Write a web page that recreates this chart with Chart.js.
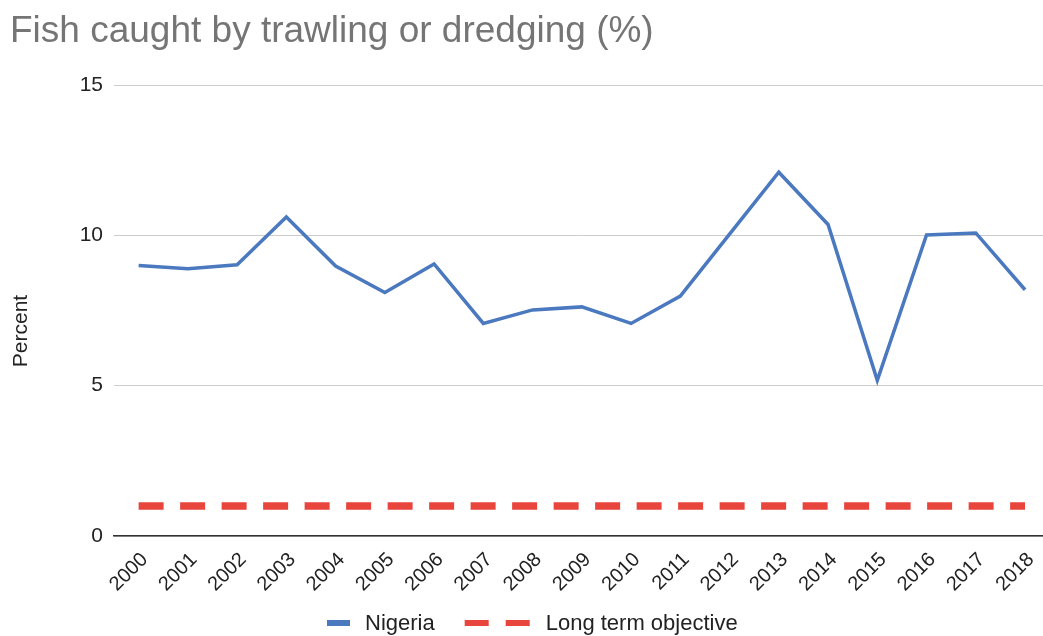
<!DOCTYPE html>
<html>
<head>
<meta charset="utf-8">
<script src="https://cdn.jsdelivr.net/npm/chart.js@4.4.1/dist/chart.umd.min.js"></script>
<style>
  html, body { margin: 0; padding: 0; background: #fff; overflow: hidden; }
  #wrap { position: relative; width: 1054px; height: 636px; }
</style>
</head>
<body>
<div id="wrap"><canvas id="chart"></canvas></div>
<script>
const chartTitle = 'Fish caught by trawling or dredging (%)';
const years = ['2000','2001','2002','2003','2004','2005','2006','2007','2008','2009',
               '2010','2011','2012','2013','2014','2015','2016','2017','2018'];
const nigeria = [9.00, 8.89, 9.02, 10.61, 8.98, 8.10, 9.05, 7.07, 7.52, 7.62,
                 7.07, 7.98, 10.04, 12.10, 10.36, 5.18, 10.01, 10.08, 8.19];
const objective = [1, 1, 1, 1, 1, 1, 1, 1, 1, 1, 1, 1, 1, 1, 1, 1, 1, 1, 1];
const yTicks = [0, 5, 10, 15];
const yAxisTitle = 'Percent';

const FONT = '"Liberation Sans", Arial, sans-serif';
const BLUE = '#4b79bf';
const RED = '#e8453c';

// Title, rotated axis title and a bottom legend with line swatches
const decorations = {
  id: 'decorations',
  afterDraw(chart) {
    const ctx = chart.ctx;
    ctx.save();
    ctx.fillStyle = '#757575';
    ctx.font = '37px ' + FONT;
    ctx.textBaseline = 'middle';
    ctx.textAlign = 'left';
    ctx.fillText(chartTitle, 10, 32);

    ctx.save();
    ctx.translate(20, 331);
    ctx.rotate(-Math.PI / 2);
    ctx.fillStyle = '#222';
    ctx.font = '21px ' + FONT;
    ctx.textAlign = 'center';
    ctx.fillText(yAxisTitle, 0, 1);
    ctx.restore();

    ctx.font = '22px ' + FONT;
    const ds = chart.data.datasets;
    const w1 = ctx.measureText(ds[0].label).width;
    let x = 327;
    const y = 623;
    ctx.fillStyle = ds[0].borderColor;
    ctx.fillRect(x, y - 3, 23, 6);
    x += 23 + 15;
    ctx.fillStyle = '#222';
    ctx.fillText(ds[0].label, x, y + 1);
    x += w1 + 30;
    ctx.fillStyle = ds[1].borderColor;
    ctx.fillRect(x, y - 3, 24, 6);
    ctx.fillRect(x + 41, y - 3, 24, 6);
    x += 65 + 16;
    ctx.fillStyle = '#222';
    ctx.fillText(ds[1].label, x, y + 1);
    ctx.restore();
  }
};

new Chart(document.getElementById('chart'), {
  type: 'line',
  data: {
    labels: years,
    datasets: [
      {
        label: 'Nigeria',
        data: nigeria,
        borderColor: BLUE,
        backgroundColor: BLUE,
        borderWidth: 3.5,
        pointRadius: 0,
        tension: 0,
        borderJoinStyle: 'miter'
      },
      {
        label: 'Long term objective',
        data: objective,
        borderColor: RED,
        backgroundColor: RED,
        borderWidth: 7.5,
        borderDash: [25, 16.5],
        borderCapStyle: 'butt',
        pointRadius: 0,
        tension: 0
      }
    ]
  },
  options: {
    responsive: true,
    maintainAspectRatio: false,
    animation: false,
    layout: { padding: { top: 85, right: 0, bottom: 0, left: 0 } },
    plugins: {
      legend: { display: false },
      title: { display: false },
      tooltip: { enabled: false }
    },
    scales: {
      x: {
        offset: true,
        grid: { display: false, drawTicks: false },
        border: { display: true, color: '#333', width: 1.5 },
        ticks: {
          color: '#222',
          font: { family: FONT, size: 20 },
          minRotation: 45,
          maxRotation: 45,
          padding: 12,
          labelOffset: 6,
          autoSkip: false
        },
        afterFit(scale) { scale.height = 100; }
      },
      y: {
        min: 0,
        max: 15,
        afterBuildTicks(scale) { scale.ticks = yTicks.map(v => ({ value: v })); },
        grid: { color: '#cccccc', lineWidth: 1, drawTicks: false },
        border: { display: false },
        ticks: {
          color: '#222',
          font: { family: FONT, size: 21 },
          padding: 11
        },
        title: { display: false },
        afterFit(scale) { scale.width = 114; }
      }
    }
  },
  plugins: [decorations]
});
</script>
</body>
</html>
